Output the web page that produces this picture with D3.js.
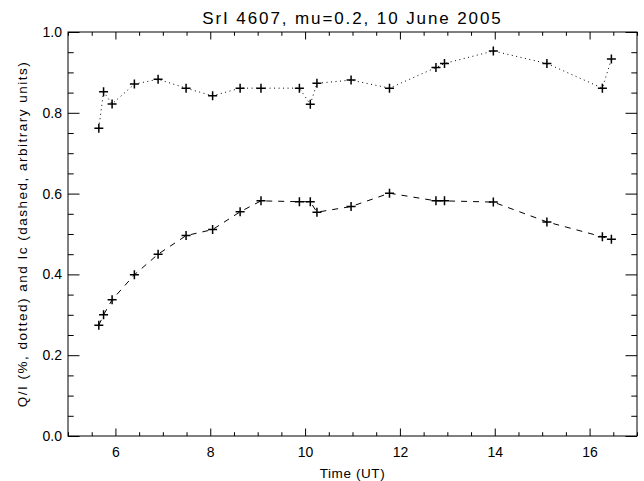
<!DOCTYPE html>
<html>
<head>
<meta charset="utf-8">
<script src="https://cdn.jsdelivr.net/npm/d3@7"></script>
<style>
  body { margin: 0; background: #fff; }
  text { font-family: "Liberation Sans", Arial, sans-serif; fill: #000; }
</style>
</head>
<body>
<div id="chart"></div>
<script>
// observation times (UT hours)
const times = [5.65, 5.75, 5.93, 6.40, 6.90, 7.49, 8.05, 8.63, 9.07, 9.88,
               10.11, 10.25, 10.97, 11.78, 12.76, 12.94, 13.97, 15.10, 16.27, 16.46]
// Q/I in % (dotted)
const qi = [0.762, 0.852, 0.822, 0.871, 0.883, 0.861, 0.842, 0.861, 0.861, 0.861,
            0.821, 0.873, 0.881, 0.861, 0.912, 0.922, 0.953, 0.922, 0.861, 0.933]
// Ic, arbitrary units (dashed)
const ic = [0.274, 0.300, 0.337, 0.399, 0.450, 0.496, 0.511, 0.555, 0.582, 0.580,
            0.580, 0.554, 0.568, 0.601, 0.582, 0.582, 0.579, 0.530, 0.493, 0.487]

const xMajor = [6, 8, 10, 12, 14, 16]
const yMajor = [0.0, 0.2, 0.4, 0.6, 0.8, 1.0]

const W = 644, H = 481
const margin = ({ top: 32, right: 7, bottom: 45, left: 68 })
const width = W - margin.left - margin.right,
    height = H - margin.top - margin.bottom

let svg = d3.select("#chart").append("svg")
    .attr("width", W)
    .attr("height", H)

let g = svg.append("g")
    .attr("transform", "translate(" + margin.left + "," + margin.top + ")")

let xScale = d3.scaleLinear().domain([5, 17]).range([0, width])
let yScale = d3.scaleLinear().domain([0, 1]).range([height, 0])

const xMinor = d3.range(5, 17.01, 0.5).filter(d => d % 2 !== 0)
const yMinor = d3.range(0, 1.001, 0.05).filter(d => Math.abs(d * 5 - Math.round(d * 5)) > 1e-6)

function styleAxis(sel) {
    sel.select(".domain").remove()
    sel.selectAll(".tick line").attr("stroke", "#000").attr("stroke-width", 1)
    sel.selectAll(".tick text").style("font-size", "14px").attr("fill", "#000")
}

// bottom axis (ticks pointing inward)
g.append("g").attr("transform", `translate(0,${height})`)
    .call(d3.axisBottom(xScale).tickValues(xMajor).tickFormat(d3.format("d"))
        .tickSizeInner(-7.5).tickSizeOuter(0).tickPadding(11))
    .call(styleAxis)
g.append("g").attr("transform", `translate(0,${height})`)
    .call(d3.axisBottom(xScale).tickValues(xMinor).tickFormat("")
        .tickSizeInner(-3.8).tickSizeOuter(0))
    .call(styleAxis)

// top axis mirror
g.append("g")
    .call(d3.axisTop(xScale).tickValues(xMajor).tickFormat("")
        .tickSizeInner(-7.5).tickSizeOuter(0))
    .call(styleAxis)
g.append("g")
    .call(d3.axisTop(xScale).tickValues(xMinor).tickFormat("")
        .tickSizeInner(-3.8).tickSizeOuter(0))
    .call(styleAxis)

// left axis
g.append("g")
    .call(d3.axisLeft(yScale).tickValues(yMajor).tickFormat(d3.format(".1f"))
        .tickSizeInner(-11.5).tickSizeOuter(0).tickPadding(6))
    .call(styleAxis)
g.append("g")
    .call(d3.axisLeft(yScale).tickValues(yMinor).tickFormat("")
        .tickSizeInner(-5.7).tickSizeOuter(0))
    .call(styleAxis)

// right axis mirror
g.append("g").attr("transform", `translate(${width},0)`)
    .call(d3.axisRight(yScale).tickValues(yMajor).tickFormat("")
        .tickSizeInner(-11.5).tickSizeOuter(0))
    .call(styleAxis)
g.append("g").attr("transform", `translate(${width},0)`)
    .call(d3.axisRight(yScale).tickValues(yMinor).tickFormat("")
        .tickSizeInner(-5.7).tickSizeOuter(0))
    .call(styleAxis)

// frame
g.append("rect")
    .attr("width", width).attr("height", height)
    .attr("fill", "none").attr("stroke", "#000").attr("stroke-width", 1)

const line = d3.line()
    .x(d => xScale(d[0]))
    .y(d => yScale(d[1]))

const qiData = times.map((t, i) => [t, qi[i]])
const icData = times.map((t, i) => [t, ic[i]])

g.append("path").datum(qiData)
    .attr("d", line).attr("fill", "none")
    .attr("stroke", "#000").attr("stroke-width", 1)
    .attr("stroke-dasharray", "1,3.5")

g.append("path").datum(icData)
    .attr("d", line).attr("fill", "none")
    .attr("stroke", "#000").attr("stroke-width", 1)
    .attr("stroke-dasharray", "6,6")

// plus markers
function drawPlus(data) {
    g.append("g").selectAll("path")
        .data(data).join("path")
        .attr("transform", d => `translate(${xScale(d[0])},${yScale(d[1])})`)
        .attr("d", "M-4.5,0H4.5M0,-4.5V4.5")
        .attr("stroke", "#000").attr("stroke-width", 1.5).attr("fill", "none")
}
drawPlus(qiData)
drawPlus(icData)

// title and labels (wide letter spacing, like the IDL vector font)
svg.append("text")
    .attr("x", margin.left + width / 2).attr("y", 24)
    .attr("text-anchor", "middle").style("font-size", "17px")
    .style("letter-spacing", "1.9px")
    .text("SrI 4607, mu=0.2, 10 June 2005")

svg.append("text")
    .attr("x", margin.left + width / 2).attr("y", 478)
    .attr("text-anchor", "middle").style("font-size", "13.5px")
    .style("letter-spacing", "0.6px")
    .text("Time (UT)")

svg.append("text")
    .attr("transform", `translate(27,${margin.top + height / 2}) rotate(-90)`)
    .attr("text-anchor", "middle").style("font-size", "13.5px")
    .style("letter-spacing", "1.5px")
    .text("Q/I (%, dotted) and Ic (dashed, arbitrary units)")
</script>
</body>
</html>
